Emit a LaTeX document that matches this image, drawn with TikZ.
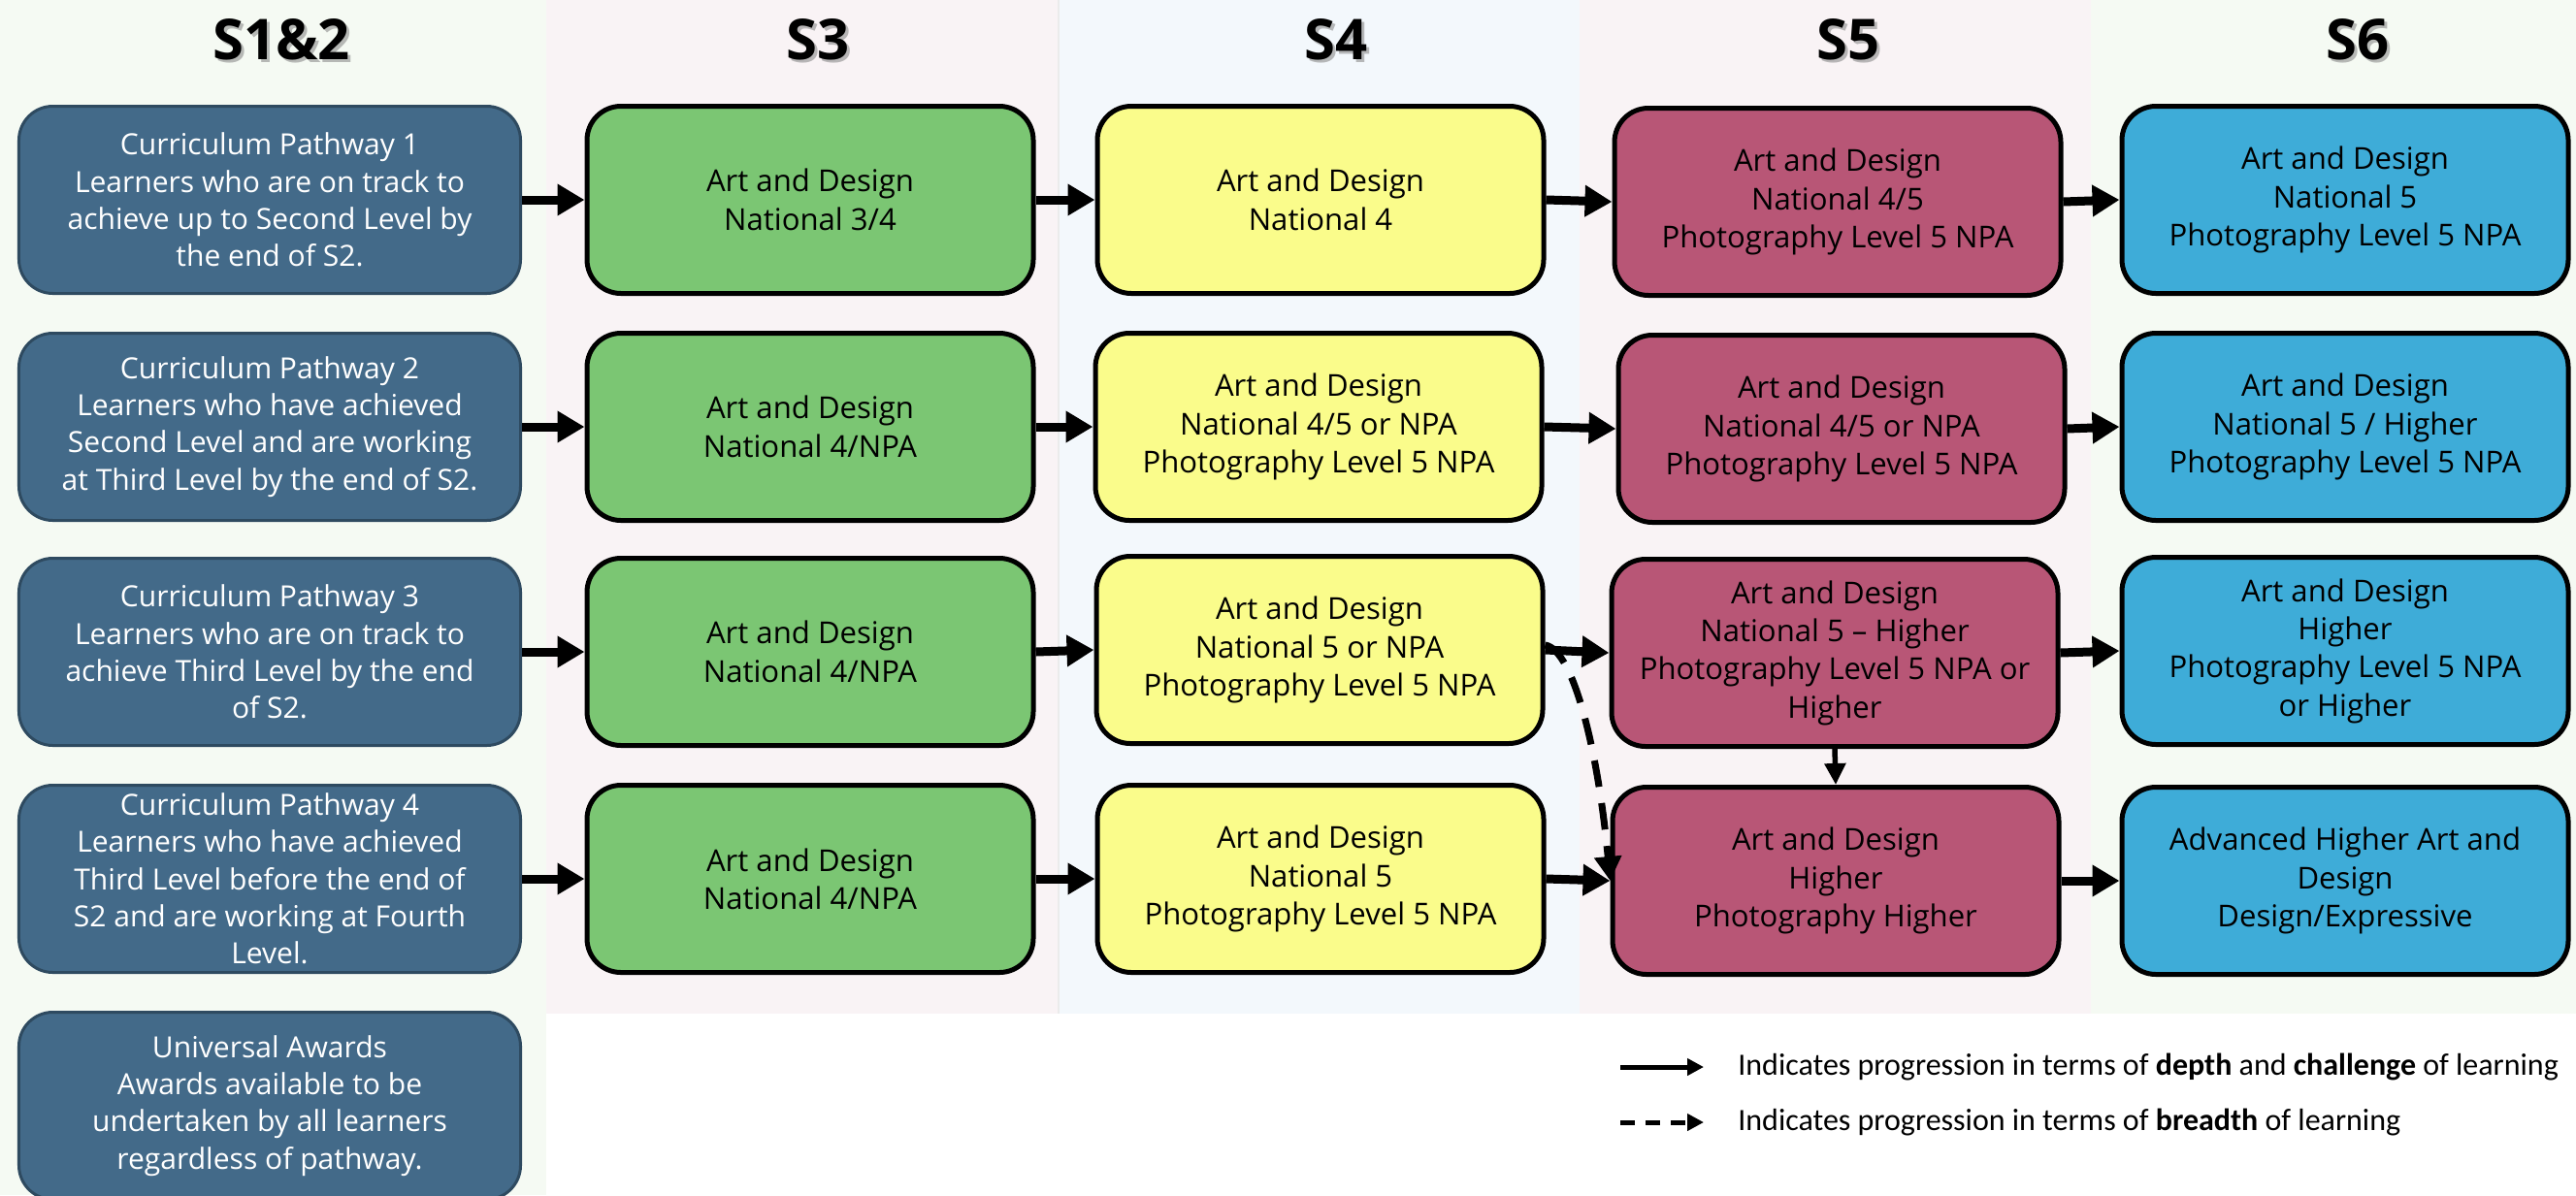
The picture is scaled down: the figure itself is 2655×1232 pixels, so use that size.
\documentclass[tikz,border=0pt]{standalone}
\usepackage{fontspec}
\setmainfont{Open Sans}
\newfontfamily\legendfont{Carlito}
\usepackage{tikz}
\usepackage{xcolor}
\usetikzlibrary{arrows.meta}
\definecolor{bg-green}{HTML}{F5FAF3}
\definecolor{bg-pink}{HTML}{F9F3F5}
\definecolor{bg-blue}{HTML}{F3F8FC}
\definecolor{path-blue}{HTML}{436A89}
\definecolor{path-edge}{HTML}{2E4A60}
\definecolor{box-green}{HTML}{7BC673}
\definecolor{box-yellow}{HTML}{FAFC8B}
\definecolor{box-rose}{HTML}{B85676}
\definecolor{box-sky}{HTML}{3EACD8}
\tikzset{
    base-box/.style = {rectangle, rounded corners=7mm, minimum width=92mm, minimum height=38.6mm, inner sep=1pt, align=center},
    pathway-box/.style = {base-box, draw=path-edge, line width=0.6mm, fill=path-blue, text=white, minimum width=103.4mm, font=\fontsize{17.1}{21.8}\selectfont},
    course-box/.style = {base-box, draw=black, line width=1mm, fill=#1, font=\fontsize{17.7}{22.4}\selectfont},
    year-title/.style = {font=\fontsize{33}{38}\bfseries},
    year-shadow/.style = {year-title, text=black!45, opacity=0.6},
    depth-link/.style = {line width=1.8mm, -{Triangle[length=5.6mm, width=6.2mm]}},
    breadth-link/.style = {line width=1.4mm, dash pattern=on 5.5mm off 3.4mm, -{Triangle[length=5mm, width=5.4mm]}},
    down-link/.style = {line width=1.1mm, -{Triangle[length=4.4mm, width=4.2mm]}},
    legend-depth/.style = {line width=1mm, -{Triangle[length=3.4mm, width=3.4mm]}},
    legend-breadth/.style = {line width=1mm, dash pattern=on 3mm off 2.2mm, -{Triangle[length=3.4mm, width=3.4mm]}},
    legend-text/.style = {anchor=west, inner sep=0pt, font=\legendfont\fontsize{18.2}{21}\selectfont},
}

\begin{document}
\begin{tikzpicture}[x=0.2mm, y=-0.2mm]
\useasboundingbox (0,0) rectangle (2655,1232);
\fill[white] (0,0) rectangle (2655,1232);
% year columns
\fill[bg-green] (0,0) rectangle (563,1232);
\fill[bg-pink] (563,0) rectangle (1091,1045);
\fill[bg-blue] (1091,0) rectangle (1628,1045);
\fill[bg-pink] (1628,0) rectangle (2155,1045);
\fill[bg-green] (2155,0) rectangle (2655,1045);
\draw[black!8, line width=0.4mm] (1091,0) -- (1091,1045);

\node[year-shadow] at (293,44) {S1\&2};
\node[year-title] (t12) at (290,41) {S1\&2};
\node[year-shadow] at (846,44) {S3};
\node[year-title] (t3) at (843,41) {S3};
\node[year-shadow] at (1380,44) {S4};
\node[year-title] (t4) at (1377,41) {S4};
\node[year-shadow] at (1908,44) {S5};
\node[year-title] (t5) at (1905,41) {S5};
\node[year-shadow] at (2433,44) {S6};
\node[year-title] (t6) at (2430,41) {S6};

% S1&2
\node[pathway-box] (p1) at (278,206) {Curriculum Pathway 1\\Learners who are on track to\\achieve up to Second Level by\\the end of S2.};
\node[pathway-box] (p2) at (278,440) {Curriculum Pathway 2\\Learners who have achieved\\Second Level and are working\\at Third Level by the end of S2.};
\node[pathway-box] (p3) at (278,672) {Curriculum Pathway 3\\Learners who are on track to\\achieve Third Level by the end\\of S2.};
\node[pathway-box] (p4) at (278,906) {Curriculum Pathway 4\\Learners who have achieved\\Third Level before the end of\\S2 and are working at Fourth\\Level.};
\node[pathway-box] (univ) at (278,1140) {Universal Awards\\Awards available to be\\undertaken by all learners\\regardless of pathway.};

% S3
\node[course-box=box-green] (s3a) at (835,206) {Art and Design\\National 3/4};
\node[course-box=box-green] (s3b) at (835,440) {Art and Design\\National 4/NPA};
\node[course-box=box-green] (s3c) at (835,672) {Art and Design\\National 4/NPA};
\node[course-box=box-green] (s3d) at (835,906) {Art and Design\\National 4/NPA};

% S4
\node[course-box=box-yellow] (s4a) at (1361,206) {Art and Design\\National 4};
\node[course-box=box-yellow] (s4b) at (1359,440) {Art and Design\\National 4/5 or NPA\\Photography Level 5 NPA};
\node[course-box=box-yellow] (s4c) at (1360,670) {Art and Design\\National 5 or NPA\\Photography Level 5 NPA};
\node[course-box=box-yellow] (s4d) at (1361,906) {Art and Design\\National 5\\Photography Level 5 NPA};

% S5
\node[course-box=box-rose] (s5a) at (1894,208) {Art and Design\\National 4/5\\Photography Level 5 NPA};
\node[course-box=box-rose] (s5b) at (1898,442) {Art and Design\\National 4/5 or NPA\\Photography Level 5 NPA};
\node[course-box=box-rose] (s5c) at (1891,673) {Art and Design\\National 5 -- Higher\\Photography Level 5 NPA or\\Higher};
\node[course-box=box-rose] (s5d) at (1892,908) {Art and Design\\Higher\\Photography Higher};

% S6
\node[course-box=box-sky] (s6a) at (2417,206) {Art and Design\\National 5\\Photography Level 5 NPA};
\node[course-box=box-sky] (s6b) at (2417,440) {Art and Design\\National 5 / Higher\\Photography Level 5 NPA};
\node[course-box=box-sky] (s6c) at (2417,671) {Art and Design\\Higher\\Photography Level 5 NPA\\or Higher};
\node[course-box=box-sky] (s6d) at (2417,908) {Advanced Higher Art and\\Design\\Design/Expressive};

% progression
\draw[depth-link] (p1.east) -- (s3a.west);
\draw[depth-link] (p2.east) -- (s3b.west);
\draw[depth-link] (p3.east) -- (s3c.west);
\draw[depth-link] (p4.east) -- (s3d.west);
\draw[depth-link] (s3a.east) -- (s4a.west);
\draw[depth-link] (s3b.east) -- (s4b.west);
\draw[depth-link] (s3c.east) -- (s4c.west);
\draw[depth-link] (s3d.east) -- (s4d.west);
\draw[depth-link] (s4a.east) -- (s5a.west);
\draw[depth-link] (s4b.east) -- (s5b.west);
\draw[depth-link] (s4c.east) -- (s5c.west);
\draw[depth-link] (s4d.east) -- (s5d.west);
\draw[depth-link] (s5a.east) -- (s6a.west);
\draw[depth-link] (s5b.east) -- (s6b.west);
\draw[depth-link] (s5c.east) -- (s6c.west);
\draw[depth-link] (s5d.east) -- (s6d.west);
\draw[down-link] (s5c.south) -- (s5d.north);
\draw[breadth-link] ([yshift=1mm]s4c.east) .. controls +(30,5) and +(-12,-130) .. (s5d.west);

% legend
\coordinate (leg-a1) at (1670,1100);
\coordinate (leg-a2) at (1756,1100);
\coordinate (leg-b1) at (1670,1157);
\coordinate (leg-b2) at (1756,1157);
\draw[legend-depth] (leg-a1) -- (leg-a2);
\draw[legend-breadth] (leg-b1) -- (leg-b2);
\node[legend-text] (leg-depth) at (1791,1100) {Indicates progression in terms of \textbf{depth} and \textbf{challenge} of learning};
\node[legend-text] (leg-breadth) at (1791,1157) {Indicates progression in terms of \textbf{breadth} of learning};
\end{tikzpicture}
\end{document}
